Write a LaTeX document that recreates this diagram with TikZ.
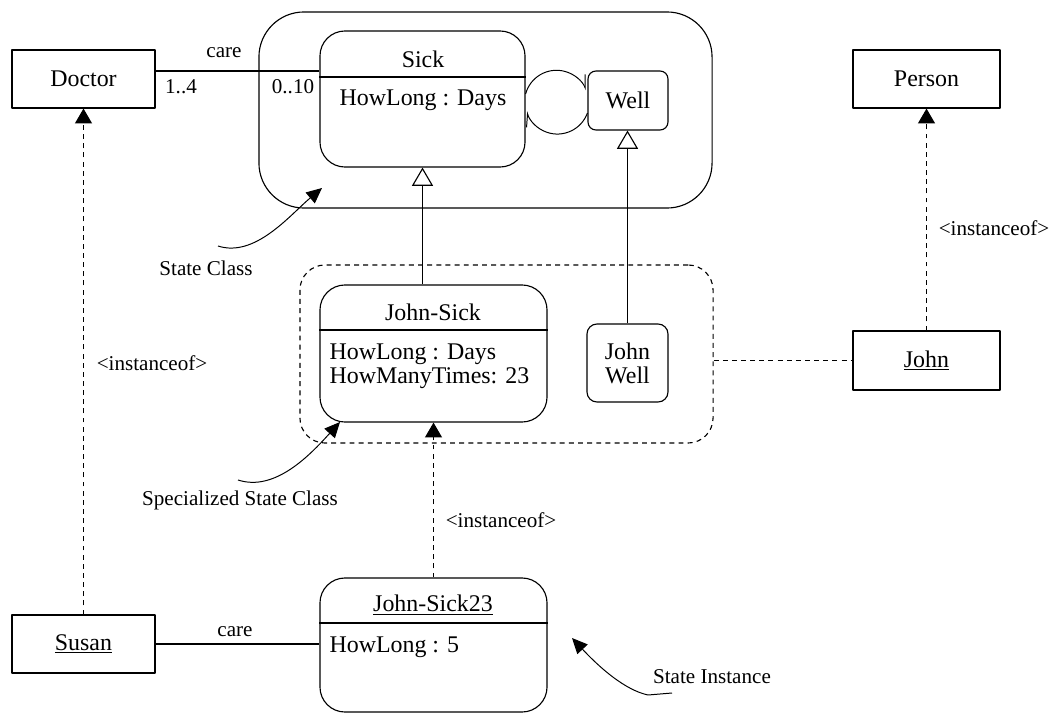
\documentclass[tikz,border=0pt]{standalone}
\usepackage{fontspec}
\setmainfont{Liberation Serif}
\usetikzlibrary{arrows.meta}

\begin{document}
\begin{tikzpicture}[x=0.025cm,y=-0.025cm,line join=round,line width=0.8pt,
  font=\fontsize{17}{17}\selectfont,
  box/.style={draw,rectangle,inner sep=0pt},
  state/.style={box,rounded corners=#1},
  lbl/.style={font=\fontsize{15}{15}\selectfont,inner sep=0pt},
  inst/.style={dash pattern=on 3.5pt off 3pt,-{Triangle[length=10.5pt,width=12pt]}},
  isa/.style={-{Triangle[open,length=13pt,width=15pt]}},
  note/.style={line width=0.7pt,-{Triangle[length=11pt,width=10pt]}},
  harp/.style={line width=0.7pt,-{Straight Barb[left,length=9pt,width=7pt]}}]
\useasboundingbox (0,0) rectangle (1057,715);

% classes and objects
\node[box,minimum width=3.575cm,minimum height=1.45cm] (doctor) at (83.5,79) {Doctor};
\node[box,minimum width=3.675cm,minimum height=1.45cm] (person) at (926.5,79) {Person};
\node[box,minimum width=3.675cm,minimum height=1.475cm] (john) at (926.5,360.5) {\underline{John}};
\node[box,minimum width=3.575cm,minimum height=1.45cm] (susan) at (83.5,644) {\underline{Susan}};

% state class region
\node[state=1.125cm,minimum width=11.325cm,minimum height=4.9cm] (stateregion) at (485.5,110) {};
\node[state=0.625cm,minimum width=5.125cm,minimum height=3.4cm] (sick) at (422.5,99) {};
\draw (sick.west |- 0,77) -- (sick.east |- 0,77);
\node at (423,59) {Sick};
\node at (423,100) {HowLong : Days};
\node[state=0.2cm,minimum width=2cm,minimum height=1.475cm] (well) at (628,100.5) {Well};
\draw[harp] (sick.east |- 0,94) arc[start angle=195,end angle=338,radius=32];
\draw[harp] (well.west |- 0,113) arc[start angle=20,end angle=163,radius=32];

% specialized state class region
\node[state=0.625cm,dash pattern=on 3.5pt off 3pt,minimum width=10.325cm,minimum height=4.45cm] (specregion) at (506.5,354) {};
\node[state=0.625cm,minimum width=5.675cm,minimum height=3.425cm] (johnsick) at (433.5,353.5) {};
\draw (johnsick.west |- 0,330) -- (johnsick.east |- 0,330);
\node at (433,312) {John-Sick};
\node[anchor=west,align=left,inner sep=0pt] at (329,366) {HowLong : Days\\HowManyTimes: 23};
\node[state=0.25cm,minimum width=2.025cm,minimum height=1.95cm,align=center] (johnwell) at (627.5,363) {John\\Well};

% state instance
\node[state=0.625cm,minimum width=5.675cm,minimum height=3.35cm] (sick23) at (433.5,645) {};
\draw (sick23.west |- 0,623) -- (sick23.east |- 0,623);
\node at (433,605) {\underline{John-Sick23}};
\node[anchor=west,inner sep=0pt] at (329,647) {HowLong : 5};

% associations
\draw (doctor.east |- 0,71) -- (sick.west |- 0,71);
\node[lbl] at (224,53) {care};
\node[lbl] at (181,87) {1..4};
\node[lbl] at (293,87) {0..10};
\draw (susan.east) -- (sick23.west |- susan.east);
\node[lbl] at (235,632) {care};

% generalization
\draw[isa] (johnsick.north -| sick.south) -- (sick.south);
\draw[isa] (johnwell.north) -- (johnwell.north |- well.south);

% instance of
\draw[inst] (susan.north) -- (doctor.south);
\node[lbl] at (152,363) {<instanceof>};
\draw[inst] (john.north) -- (person.south);
\node[lbl] at (994,228) {<instanceof>};
\draw[inst] (sick23.north) -- (johnsick.south);
\node[lbl] at (501,520) {<instanceof>};
\draw[dash pattern=on 3.5pt off 3pt] (specregion.east |- john.west) -- (john.west);

% notes
\coordinate (sctail) at (218,246);
\coordinate (sctip) at (322,188);
\draw[note] (sctail) .. controls (255,258) and (290,215) .. (sctip);
\node[lbl] at (206,268) {State Class};
\coordinate (sptail) at (238,480);
\coordinate (sptip) at (340,422);
\draw[note] (sptail) .. controls (275,492) and (310,455) .. (sptip);
\node[lbl] at (240,500) {Specialized State Class};
\coordinate (sitail) at (672,693);
\coordinate (sitip) at (572,638);
\draw[note] (sitail) -- (648,695) .. controls (625,690) and (600,668) .. (sitip);
\node[lbl] at (712,677) {State Instance};
\end{tikzpicture}
\end{document}
